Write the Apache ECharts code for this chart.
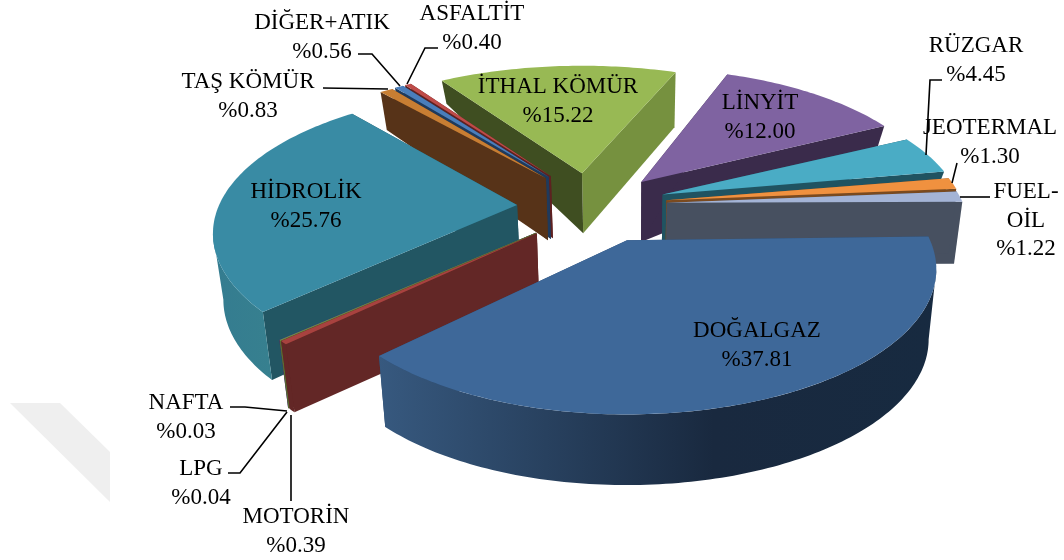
<!DOCTYPE html>
<html>
<head>
<meta charset="utf-8">
<style>html,body{margin:0;padding:0;background:#fff}#c{width:1064px;height:560px}</style>
<script src="https://cdn.jsdelivr.net/npm/echarts@6/dist/echarts.min.js"></script>
</head>
<body>
<div id="c"></div>
<script>
// ---- data (clockwise from the right-hand edge of DOĞALGAZ) ----
const names  = ['DOĞALGAZ','MOTORİN','LPG','NAFTA','HİDROLİK','TAŞ KÖMÜR','DİĞER+ATIK','ASFALTİT','İTHAL KÖMÜR','LİNYİT','RÜZGAR','JEOTERMAL','FUEL-\nOİL'];
const values = [37.81,0.39,0.04,0.03,25.76,0.83,0.56,0.40,15.22,12.00,4.45,1.30,1.22];

// ---- look of the slices, same order as names ----
const explode  = [68,86,86,86,83,85,85,85,64,62,66,67,67];
const nudgeX   = [0,-2,-2,-2,0,0,0,0,-10,0,0,0,0];
const nudgeY   = [4,-2,-2,-2,2,6,6,6,0,0,0,0,0];
const rotate   = [0,1.5,1.5,1.5,1.3,1.5,1.5,1.5,1.5,0,0.5,1,1];
const radius   = [303,300,300,300,298,300,300,300,300,296,296,296,296];
const flatten  = [0.46,0.46,0.46,0.46,0.46,0.43,0.43,0.43,0.43,0.46,0.46,0.46,0.46];
const topFill  = ['#3e6899','#a8423f','#8db254','#7a5a9a','#398ba4','#c87e33','#4a7ebb','#be4b48','#98b954','#7f63a1','#4aacc5','#f0913f','#a4b4d6'];
const wallA    = ['#2c4a6e','#632726','#5a7030','#4a3a60','#225663','#573318','#1f3a5c','#5e2120','#3f4e21','#3a2b4b','#205361','#7a4a1f','#475060'];
const wallB    = ['#2c4a6e','#632726','#5a7030','#4a3a60','#225663','#573318','#1f3a5c','#5e2120','#76913f','#3a2b4b','#205361','#7a4a1f','#475060'];
const rimStops = [
  [[0,'#37597f'],[0.6,'#19293f'],[1,'#172a40']],null,null,null,
  [[0,'#347c90'],[1,'#37808f']],null,null,null,
  null,null,null,null,null
];
const depthApex = [70,70,70,70,62,62,62,62,60,60,60,62,62];
const depthA0   = [70,68,68,68,68,38,38,38,23,30,20,30,62];
const depthA1   = [71,68,68,68,62,38,38,38,55,20,20,60,62];
const drawOrder = [8,9,10,11,12,7,6,5,4,3,2,1,0];

const centerX = 600, centerY = 205, squash = 0.5;
const persp = 0.2, vanishX = 630, startAngle = -1.5;

// ---- labels ----
const labelPos = [[757,331],[296,517],[201,469],[186,403],[306,192],[248,82],[322,23],[472,14],[558,87],[760,103],[976,46],[990,128],[1026,192]];
const leaders  = [
  null,
  [[291,415],[291,501]],
  [[228,473],[240,473],[287,412]],
  [[230,407],[245,407],[287,411]],
  null,
  [[323,88],[388,89]],
  [[358,54],[372,54],[400,86]],
  [[438,48],[425,48],[407,84]],
  null,null,
  [[942,80],[930,80],[926,155]],
  [[957,163],[952,183]],
  [[990,197],[960,197]]
];
const fontCss = '23px "Liberation Serif", serif';
const lineStep = 28.5;

const total = values.reduce((a,b)=>a+b,0);
const spans = [];
values.reduce((acc,v)=>{ const a1=acc+v/total*360; spans.push([acc,a1]); return a1; }, startAngle);

function rimPoint(ax,ay,R,f,deg){
  const t=deg*Math.PI/180, s=1/(1-persp*Math.sin(t));
  return [ax+R*Math.cos(t)*s, ay+R*f*Math.sin(t)*s];
}
function drop(p,d){ return [p[0]-(p[0]-vanishX)*0.025, p[1]+d]; }

function renderSlice(params){
  const i=drawOrder[params.dataIndex];
  const a0=spans[i][0]+rotate[i], a1=spans[i][1]+rotate[i];
  const mid=(spans[i][0]+spans[i][1])/2*Math.PI/180;
  const ax=centerX+explode[i]*Math.cos(mid)+nudgeX[i], ay=centerY+explode[i]*squash*Math.sin(mid)+nudgeY[i];
  const R=radius[i], f=flatten[i], arc=[];
  const n=Math.max(2,Math.ceil(a1-a0));
  for(let k=0;k<=n;k++) arc.push(rimPoint(ax,ay,R,f,a0+(a1-a0)*k/n));
  const apex=[ax,ay], apexB=drop(apex,depthApex[i]);
  const depthAt=a=>depthA0[i]+(depthA1[i]-depthA0[i])*(a-a0)/(a1-a0);
  const kids=[];
  kids.push({type:'polygon',shape:{points:[apex,arc[n],drop(arc[n],depthA1[i]),apexB]},style:{fill:wallB[i]}});
  kids.push({type:'polygon',shape:{points:[apex,arc[0],drop(arc[0],depthA0[i]),apexB]},style:{fill:wallA[i]}});
  // only the front of the rim (between the two horizontal extremes of the ellipse) can be seen
  const edge=Math.asin(persp)*180/Math.PI, lo=Math.max(a0,edge), hi=Math.min(a1,180-edge);
  if(lo<hi){
    const m=Math.max(2,Math.ceil(hi-lo)), up=[], down=[];
    for(let k=0;k<=m;k++){
      const a=lo+(hi-lo)*k/m, p=rimPoint(ax,ay,R,f,a);
      up.push(p); down.push(drop(p,depthAt(a)));
    }
    const fill=rimStops[i]?new echarts.graphic.LinearGradient(0,0,1,0,rimStops[i].map(s=>({offset:s[0],color:s[1]}))):wallA[i];
    kids.push({type:'polygon',shape:{points:up.concat(down.reverse())},style:{fill:fill}});
  }
  kids.push({type:'polygon',shape:{points:[apex].concat(arc)},style:{fill:topFill[i]}});
  return {type:'group',children:kids};
}

function renderLabel(params){
  const i=params.dataIndex, kids=[];
  if(leaders[i]) kids.push({type:'polyline',shape:{points:leaders[i]},style:{stroke:'#000',lineWidth:1.6,fill:'none'}});
  const lines=names[i].split('\n').concat('%'+values[i].toFixed(2));
  lines.forEach((t,k)=>kids.push({type:'text',style:{x:labelPos[i][0],y:labelPos[i][1]+k*lineStep,text:t,font:fontCss,fill:'#000',align:'center',verticalAlign:'middle'}}));
  return {type:'group',children:kids};
}

const chart=echarts.init(document.getElementById('c'),null,{renderer:'canvas'});
chart.setOption({
  animation:false,
  backgroundColor:'#fff',
  graphic:[{type:'polygon',silent:true,z:-1,shape:{points:[[10,403],[60,403],[110,452],[110,502]]},style:{fill:'#efefef'}}],
  series:[
    {type:'custom',coordinateSystem:'none',silent:true,z:2,renderItem:renderSlice,data:drawOrder.map(i=>[values[i]])},
    {type:'custom',coordinateSystem:'none',silent:true,z:3,renderItem:renderLabel,data:values.map(v=>[v])}
  ]
});
</script>
</body>
</html>
